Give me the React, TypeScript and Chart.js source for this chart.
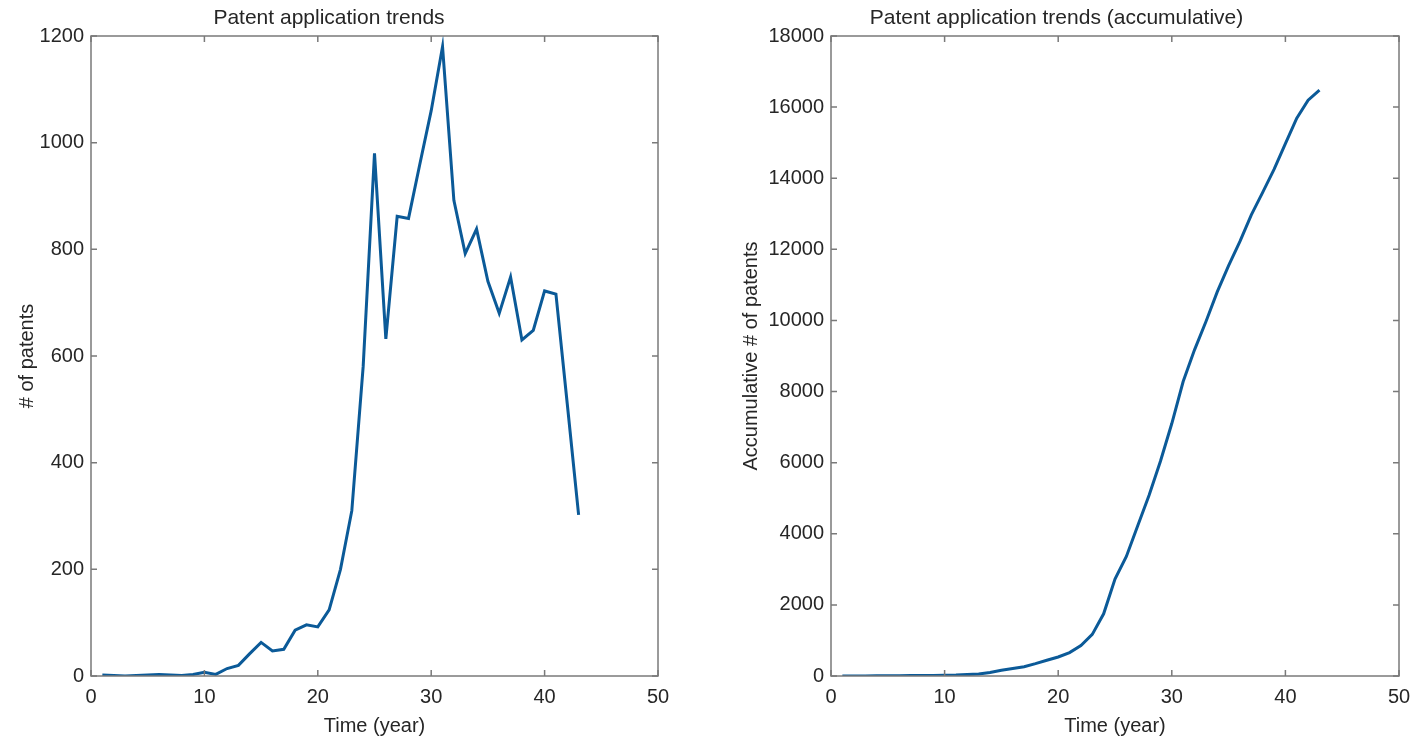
import React, { useEffect, useRef } from 'react';
import { Chart, registerables } from 'chart.js';

Chart.register(...registerables);

const years = [
  1, 2, 3, 4, 5, 6, 7, 8, 9, 10, 11, 12, 13, 14, 15, 16, 17, 18, 19, 20, 21, 22,
  23, 24, 25, 26, 27, 28, 29, 30, 31, 32, 33, 34, 35, 36, 37, 38, 39, 40, 41, 42, 43,
];
const patents = [
  2, 1, 0, 1, 2, 3, 2, 1, 3, 7, 3, 14, 20, 42, 63, 47, 50, 86, 96, 92, 124, 200,
  310, 580, 980, 632, 862, 858, 960, 1060, 1180, 892, 792, 838, 740, 680, 748, 630, 648, 722, 716, 510, 302,
];
const accumulative = [
  2, 3, 3, 4, 6, 9, 11, 12, 15, 22, 25, 39, 59, 101, 164, 211, 261, 347, 443, 535, 659, 859,
  1169, 1749, 2729, 3361, 4223, 5081, 6041, 7101, 8281, 9173, 9965, 10803, 11543, 12223, 12971, 13601, 14249, 14971, 15687, 16197, 16480,
];
const xTicks = [0, 10, 20, 30, 40, 50];
const leftYTicks = [0, 200, 400, 600, 800, 1000, 1200];
const rightYTicks = [0, 2000, 4000, 6000, 8000, 10000, 12000, 14000, 16000, 18000];

const FONT = '"Liberation Sans", Arial, Helvetica, sans-serif';
const TEXT = '#262626';
const LINE = '#0b5a98';
const AXIS = '#7a7a7a';

const boxPlugin = {
  id: 'matlabBox',
  afterDraw(chart: any) {
    const { ctx, chartArea } = chart;
    const { left, right, top, bottom } = chartArea;
    const xs = chart.scales.x;
    const ys = chart.scales.y;
    const tl = 6;
    ctx.save();
    ctx.strokeStyle = AXIS;
    ctx.lineWidth = 1.5;
    ctx.strokeRect(left, top, right - left, bottom - top);
    ctx.beginPath();
    xs.ticks.forEach((t: any) => {
      const px = xs.getPixelForValue(t.value);
      ctx.moveTo(px, bottom);
      ctx.lineTo(px, bottom - tl);
      ctx.moveTo(px, top);
      ctx.lineTo(px, top + tl);
    });
    ys.ticks.forEach((t: any) => {
      const py = ys.getPixelForValue(t.value);
      ctx.moveTo(left, py);
      ctx.lineTo(left + tl, py);
      ctx.moveTo(right, py);
      ctx.lineTo(right - tl, py);
    });
    ctx.stroke();
    ctx.restore();
  },
};

type PanelProps = {
  title: string;
  yTitle: string;
  values: number[];
  yTicks: number[];
  yMax: number;
  axisWidth: number;
  padRight: number;
  yTitlePad: number;
};

function Panel(p: PanelProps) {
  const ref = useRef<HTMLCanvasElement>(null);
  useEffect(() => {
    if (!ref.current) return;
    const chart = new Chart(ref.current, {
      type: 'line',
      data: {
        datasets: [
          {
            data: years.map((x, i) => ({ x, y: p.values[i] })),
            borderColor: LINE,
            borderWidth: 3,
            pointRadius: 0,
            tension: 0,
            fill: false,
          },
        ],
      },
      options: {
        animation: false,
        responsive: false,
        maintainAspectRatio: false,
        layout: { padding: { left: 0, right: p.padRight, top: 0, bottom: 0 } },
        plugins: {
          legend: { display: false },
          tooltip: { enabled: false },
          title: {
            display: true,
            text: p.title,
            color: TEXT,
            font: { family: FONT, size: 21, weight: 'normal' },
            padding: { top: 6, bottom: 4.8 },
          },
        },
        scales: {
          x: {
            type: 'linear',
            min: 0,
            max: 50,
            afterBuildTicks: (s: any) => {
              s.ticks = xTicks.map((v) => ({ value: v }));
            },
            afterFit: (s: any) => {
              s.height = 64;
            },
            grid: { display: true, drawOnChartArea: false, drawTicks: false, color: 'rgba(0,0,0,0)' },
            border: { display: false },
            ticks: {
              color: TEXT,
              font: { family: FONT, size: 20 },
              padding: 9,
              maxRotation: 0,
              callback: (v: any) => String(v),
            },
            title: {
              display: true,
              text: 'Time (year)',
              color: TEXT,
              font: { family: FONT, size: 20 },
              padding: { top: 0, bottom: 2 },
            },
          },
          y: {
            type: 'linear',
            min: 0,
            max: p.yMax,
            afterBuildTicks: (s: any) => {
              s.ticks = p.yTicks.map((v) => ({ value: v }));
            },
            afterFit: (s: any) => {
              s.width = p.axisWidth;
            },
            grid: { display: true, drawOnChartArea: false, drawTicks: false, color: 'rgba(0,0,0,0)' },
            border: { display: false },
            ticks: {
              color: TEXT,
              font: { family: FONT, size: 20 },
              padding: 7,
              callback: (v: any) => String(v),
            },
            title: {
              display: true,
              text: p.yTitle,
              color: TEXT,
              font: { family: FONT, size: 20 },
              padding: { top: p.yTitlePad, bottom: 0 },
            },
          },
        },
      },
      plugins: [boxPlugin],
    });
    return () => chart.destroy();
  }, []);
  return <canvas ref={ref} width={714} height={740} style={{ display: 'block', width: 714, height: 740 }} />;
}

export default function App() {
  return (
    <div style={{ position: 'absolute', left: 0, top: 0, width: 1428, height: 740, background: '#fff', display: 'flex' }}>
      <Panel
        title="Patent application trends"
        yTitle="# of patents"
        values={patents}
        yTicks={leftYTicks}
        yMax={1200}
        axisWidth={91}
        padRight={56}
        yTitlePad={15}
      />
      <Panel
        title="Patent application trends (accumulative)"
        yTitle="Accumulative # of patents"
        values={accumulative}
        yTicks={rightYTicks}
        yMax={18000}
        axisWidth={117}
        padRight={29}
        yTitlePad={25}
      />
    </div>
  );
}
